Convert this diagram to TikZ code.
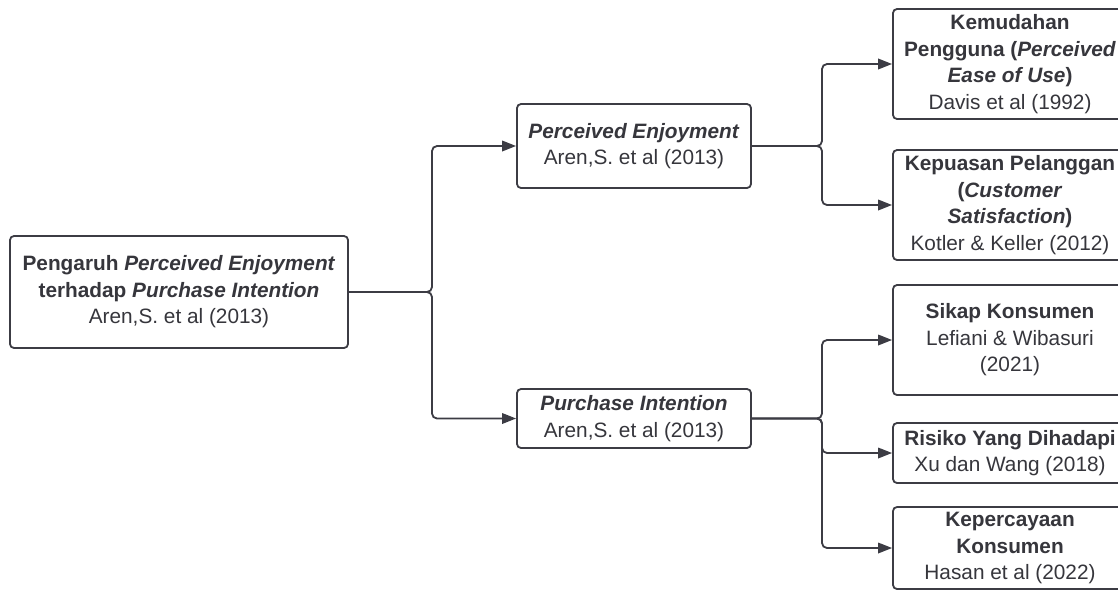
\documentclass[tikz,border=0pt]{standalone}
\usepackage{fontspec}
\setmainfont{Liberation Sans}
\usetikzlibrary{arrows.meta}
\definecolor{txt}{HTML}{36363C}
\definecolor{ln}{HTML}{3C3C44}
\tikzset{
  box/.style={draw=ln, line width=1.8pt, rounded corners=4pt, fill=white,
    align=center, text=txt, inner sep=0pt,
    font=\fontsize{20.8}{26.5}\selectfont},
  conn/.style={draw=ln, line width=1.8pt, rounded corners=5pt,
    -{Triangle[length=14pt,width=10.5pt]}},
}
\begin{document}
\begin{tikzpicture}[x=1pt,y=-1pt]
\clip (0,0) rectangle (1118,590);
\fill[white] (0,0) rectangle (1118,590);
\node[box, minimum width=338pt, minimum height=112pt] (L) at (179,292)
  {\textbf{Pengaruh \textit{Perceived Enjoyment}}\\\textbf{terhadap \textit{Purchase Intention}}\\Aren,S. et al (2013)};
\node[box, minimum width=234pt, minimum height=84pt] (PE) at (634,146)
  {\textbf{\textit{Perceived Enjoyment}}\\Aren,S. et al (2013)};
\node[box, minimum width=234pt, minimum height=59pt] (PI) at (634,418.5)
  {\textbf{\textit{Purchase Intention}}\\Aren,S. et al (2013)};
\node[box, minimum width=234pt, minimum height=110pt] (K1) at (1010,64)
  {\textbf{Kemudahan}\\\textbf{Pengguna (\textit{Perceived}}\\\textbf{\textit{Ease of Use})}\\Davis et al (1992)};
\node[box, minimum width=234pt, minimum height=110pt] (K2) at (1010,205)
  {\textbf{Kepuasan Pelanggan}\\\textbf{(\textit{Customer}}\\\textbf{\textit{Satisfaction})}\\Kotler \& Keller (2012)};
\node[box, minimum width=234pt, minimum height=110pt] (S) at (1010,340)
  {\textbf{Sikap Konsumen}\\Lefiani \& Wibasuri\\(2021)};
\node[box, minimum width=234pt, minimum height=60pt] (R) at (1010,453)
  {\textbf{Risiko Yang Dihadapi}\\Xu dan Wang (2018)};
\node[box, minimum width=234pt, minimum height=82pt] (KP) at (1010,548)
  {\textbf{Kepercayaan}\\\textbf{Konsumen}\\Hasan et al (2022)};
\coordinate (j0) at (432,292);
\coordinate (j1) at (822,146);
\coordinate (j2) at (822,418.5);
\draw[conn] (L.east) -- (j0) |- (PE.west);
\draw[conn] (L.east) -- (j0) |- (PI.west);
\draw[conn] (PE.east) -- (j1) |- (K1.west);
\draw[conn] (PE.east) -- (j1) |- (K2.west);
\draw[conn] (PI.east) -- (j2) |- (S.west);
\draw[conn] (PI.east) -- (j2) |- (R.west);
\draw[conn] (PI.east) -- (j2) |- (KP.west);
\end{tikzpicture}
\end{document}
